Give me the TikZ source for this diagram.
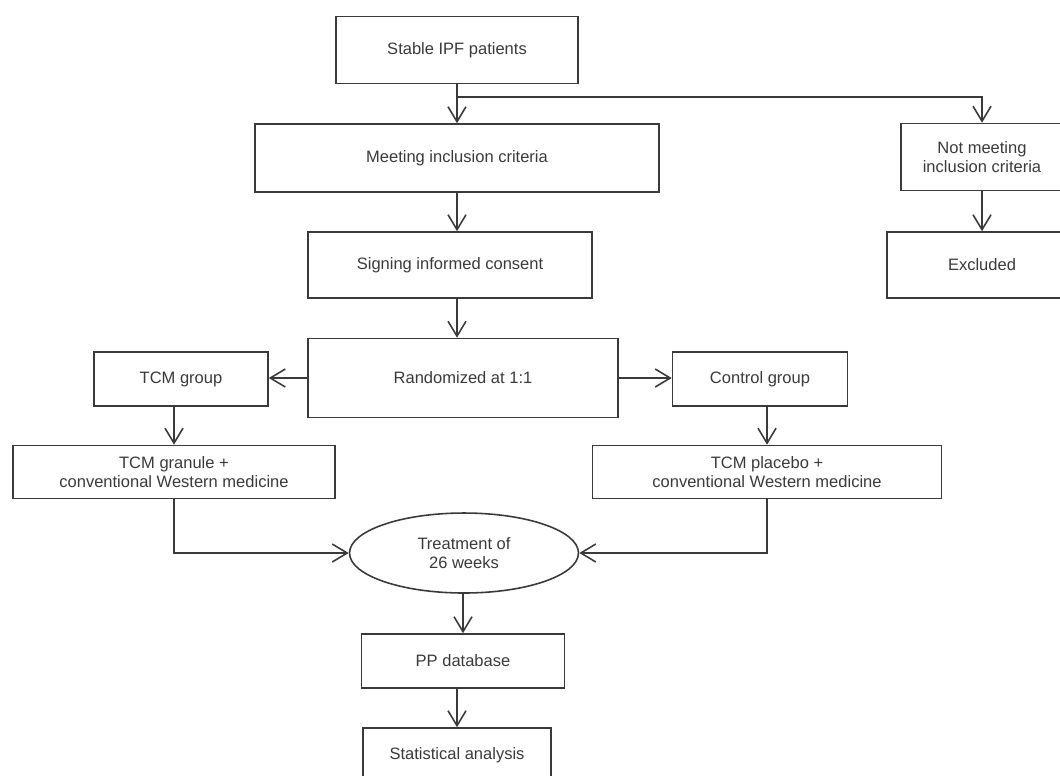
\documentclass[tikz,border=0pt]{standalone}
\usepackage{fontspec}
\setmainfont{Liberation Sans}
\usetikzlibrary{arrows.meta,shapes.geometric}
\definecolor{ink}{HTML}{3A3A3A}
\begin{document}
\begin{tikzpicture}[x=0.02cm, y=-0.02cm, line width=0.9pt, draw=ink, text=ink,
        font=\fontsize{9.4}{10.5}\selectfont,
        box/.style={draw=ink, rectangle, align=center, inner sep=0pt},
        oval/.style={draw=ink, ellipse, align=center, inner sep=0pt},
        arr/.style={draw=ink, -{Straight Barb[length=3mm, width=3.6mm]}}]
        \useasboundingbox (0, 0) rectangle (1060, 775);
        % centre column
        \node (stable) at (457, 50)[box, minimum width=4.84cm, minimum height=1.34cm]{Stable IPF patients};
        \node (meet) at (457, 158)[box, minimum width=8.08cm, minimum height=1.36cm]{Meeting inclusion criteria};
        \node (sign) at (450, 265)[box, minimum width=5.68cm, minimum height=1.32cm]{Signing informed consent};
        \node (rand) at (463, 378)[box, minimum width=6.2cm, minimum height=1.58cm]{Randomized at 1:1};
        \node (treat) at (464, 553)[oval, minimum width=4.58cm, minimum height=1.6cm]{Treatment of\\26 weeks};
        \node (pp) at (463, 661)[box, minimum width=4.06cm, minimum height=1.08cm]{PP database};
        \node (stat) at (457, 755)[box, minimum width=3.76cm, minimum height=1.08cm]{Statistical analysis};
        % excluded branch
        \node (notmeet) at (982, 157)[box, minimum width=3.24cm, minimum height=1.34cm]{Not meeting\\inclusion criteria};
        \node (excl) at (982, 265)[box, minimum width=3.8cm, minimum height=1.32cm]{Excluded};
        % the two groups
        \node (tcmg) at (181, 379)[box, minimum width=3.48cm, minimum height=1.08cm]{TCM group};
        \node (gran) at (174, 472)[box, minimum width=6.44cm, minimum height=1.06cm]{TCM granule +\\conventional Western medicine};
        \node (ctrl) at (760, 379)[box, minimum width=3.5cm, minimum height=1.08cm]{Control group};
        \node (plac) at (767, 472)[box, minimum width=6.98cm, minimum height=1.06cm]{TCM placebo +\\conventional Western medicine};
        \coordinate (fork) at (457, 97);

        \draw[arr] (stable) -- (meet);
        \draw[arr] (fork) -| (notmeet);
        \draw[arr] (notmeet) -- (excl);
        \draw[arr] (meet.south) -- (meet.south |- sign.north);
        \draw[arr] (sign.south -| meet) -- (rand.north -| meet);
        \draw[arr] (rand.west) -- (rand.west -| tcmg.east);
        \draw[arr] (rand.east) -- (rand.east -| ctrl.west);
        \draw[arr] (tcmg.south -| gran) -- (gran);
        \draw[arr] (ctrl.south -| plac) -- (plac);
        \draw[arr] (gran.south) |- (treat.west);
        \draw[arr] (plac.south) |- (treat.east);
        \draw[arr] (treat.south -| pp) -- (pp);
        \draw[arr] (pp.south -| stat) -- (stat);
    \end{tikzpicture}
\end{document}
